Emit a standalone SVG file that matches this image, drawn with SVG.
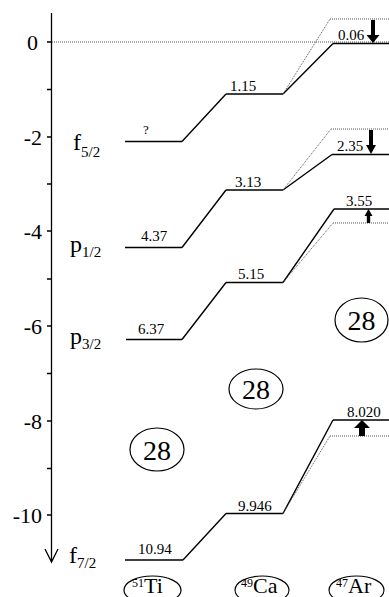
<svg xmlns="http://www.w3.org/2000/svg" width="389" height="597" viewBox="0 0 389 597" font-family="'Liberation Serif', 'DejaVu Serif', serif">
<style>
text, tspan{font-family:'Liberation Serif','DejaVu Serif',serif;fill:#000}
.lv{stroke:#000;stroke-width:1.4;fill:none}
.dt{stroke:#555;stroke-width:1;stroke-dasharray:1,1;fill:none}
.ax{stroke:#000;stroke-width:1.3;fill:none}
.num{font-size:15px}
.tk{font-size:22px;text-anchor:end}
.orb{font-size:24px}
.sub{font-size:15px}
.ring{fill:none;stroke:#000;stroke-width:1.2}
.magic{font-size:28px;text-anchor:middle}
.nuc{font-size:22px}
.sup{font-size:12px}
.arr{fill:#000}
</style>
<g id="axis">
<path class="ax" d="M51.5,13 V562 M45,549 L51.5,562 L58,549"/>
<path class="ax" d="M47,42 H51.5 M47,89.5 H51.5 M47,137 H51.5 M47,184 H51.5 M47,231 H51.5 M47,279 H51.5 M47,326 H51.5 M47,373.5 H51.5 M47,421 H51.5 M47,468.5 H51.5 M47,515 H51.5"/>
<text class="tk" x="38" y="50">0</text>
<text class="tk" x="42" y="145">-2</text>
<text class="tk" x="42" y="239">-4</text>
<text class="tk" x="42" y="334">-6</text>
<text class="tk" x="42" y="429">-8</text>
<text class="tk" x="42" y="523">-10</text>
</g>
<g id="zero-line"><path class="dt" d="M52,42 H389"/></g>
<g id="orbital-labels">
<text class="orb" x="73" y="150">f<tspan class="sub" dy="7">5/2</tspan></text>
<text class="orb" x="70" y="252">p<tspan class="sub" dy="5">1/2</tspan></text>
<text class="orb" x="70" y="344">p<tspan class="sub" dy="5">3/2</tspan></text>
<text class="orb" x="69" y="563">f<tspan class="sub" dy="5">7/2</tspan></text>
</g>
<g id="ti-levels">
<path class="lv" d="M125,141.5 H182 M125,247.5 H182 M126,339.5 H182 M125,560 H183"/>
<text x="146" y="134" font-size="13" text-anchor="middle">?</text>
<text class="num" x="141" y="241">4.37</text>
<text class="num" x="138" y="334">6.37</text>
<text class="num" x="138" y="554">10.94</text>
</g>
<g id="ca-levels">
<path class="lv" d="M226,94 H283 M226,190 H283 M226,282.5 H283 M226,513.5 H283"/>
<text class="num" x="230" y="91">1.15</text>
<text class="num" x="235" y="187">3.13</text>
<text class="num" x="238" y="279">5.15</text>
<text class="num" x="238" y="511">9.946</text>
</g>
<g id="ar-levels">
<path class="lv" d="M333,43.5 H389 M332,154.5 H389 M334,209 H389 M333,420 H389"/>
<path class="dt" d="M330,19 H389 M331,129 H389 M333,223 H389 M330,436 H389"/>
<text class="num" x="338" y="40">0.06</text>
<text class="num" x="337" y="151">2.35</text>
<text class="num" x="346" y="206">3.55</text>
<text class="num" x="347" y="417">8.020</text>
</g>
<g id="shift-arrows">
<path class="arr" d="M371,20 H375 V35 H379.5 L373,43 L366.5,35 H371 Z"/>
<path class="arr" d="M369,130 H373 V145 H376 L371,154 L366,145 H369 Z"/>
<path class="arr" d="M366.8,223 H370.2 V216 H372.5 L368.5,209 L364.5,216 H366.8 Z"/>
<path class="arr" d="M359,436 H365 V428 H370 L362,420 L354,428 H359 Z"/>
</g>
<g id="connectors">
<path class="lv" d="M182,141.5 L226,94 M182,247.5 L226,190 M182,339.5 L226,282.5 M183,560 L226,513.5"/>
<path class="lv" d="M283,94 L333,43.5 M283,190 L332,154.5 M283,282.5 L334,209 M283,513.5 L333,420"/>
<path class="dt" d="M283,94 L330,19 M283,190 L331,129 M283,282.5 L333,223 M283,513.5 L330,436"/>
</g>
<g id="magic-ar">
<ellipse class="ring" cx="361.5" cy="320" rx="26.5" ry="22"/>
<text class="magic" x="361.5" y="330">28</text>
</g>
<g id="magic-ca">
<ellipse class="ring" cx="256" cy="389" rx="27" ry="20"/>
<text class="magic" x="256" y="399">28</text>
</g>
<g id="magic-ti">
<ellipse class="ring" cx="157" cy="449.5" rx="27" ry="21.5"/>
<text class="magic" x="157" y="459.5">28</text>
</g>
<g id="nucleus-ti">
<ellipse class="ring" cx="152.5" cy="590" rx="28.5" ry="14"/>
<text class="nuc" x="132" y="593"><tspan class="sup" dy="-6">51</tspan><tspan dy="6">Ti</tspan></text>
</g>
<g id="nucleus-ca">
<ellipse class="ring" cx="262" cy="590" rx="27" ry="14"/>
<text class="nuc" x="241" y="593"><tspan class="sup" dy="-6">49</tspan><tspan dy="6">Ca</tspan></text>
</g>
<g id="nucleus-ar">
<ellipse class="ring" cx="356.5" cy="590" rx="27.5" ry="14"/>
<text class="nuc" x="336" y="593"><tspan class="sup" dy="-6">47</tspan><tspan dy="6">Ar</tspan></text>
</g>
</svg>
